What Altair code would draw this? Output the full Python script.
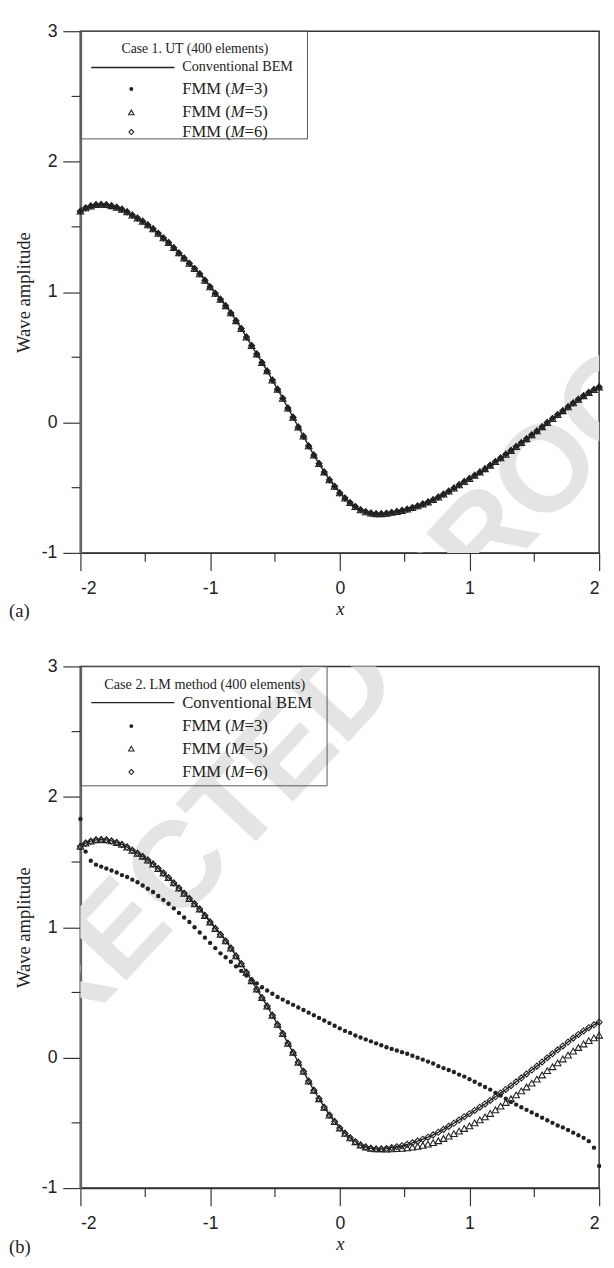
import altair as alt
import pandas as pd

# ---------------- data ----------------
X = [-2.00, -1.96, -1.92, -1.88, -1.84, -1.80, -1.76, -1.72, -1.68, -1.64,
     -1.60, -1.56, -1.52, -1.48, -1.44, -1.40, -1.36, -1.32, -1.28, -1.24,
     -1.20, -1.16, -1.12, -1.08, -1.04, -1.00, -0.96, -0.92, -0.88, -0.84,
     -0.80, -0.76, -0.72, -0.68, -0.64, -0.60, -0.56, -0.52, -0.48, -0.44,
     -0.40, -0.36, -0.32, -0.28, -0.24, -0.20, -0.16, -0.12, -0.08, -0.04,
     0.00, 0.04, 0.08, 0.12, 0.16, 0.20, 0.24, 0.28, 0.32, 0.36,
     0.40, 0.44, 0.48, 0.52, 0.56, 0.60, 0.64, 0.68, 0.72, 0.76,
     0.80, 0.84, 0.88, 0.92, 0.96, 1.00, 1.04, 1.08, 1.12, 1.16,
     1.20, 1.24, 1.28, 1.32, 1.36, 1.40, 1.44, 1.48, 1.52, 1.56,
     1.60, 1.64, 1.68, 1.72, 1.76, 1.80, 1.84, 1.88, 1.92, 1.96, 2.00]

# Conventional BEM (also FMM results of case 1 and FMM M=6 of case 2)
BEM = [1.620, 1.645, 1.660, 1.670, 1.672, 1.670, 1.662, 1.650, 1.635, 1.615,
       1.590, 1.567, 1.543, 1.515, 1.485, 1.450, 1.415, 1.380, 1.340, 1.300,
       1.260, 1.220, 1.180, 1.140, 1.090, 1.040, 0.990, 0.945, 0.895, 0.840,
       0.780, 0.720, 0.655, 0.590, 0.525, 0.460, 0.395, 0.325, 0.255, 0.185,
       0.110, 0.040, -0.035, -0.105, -0.180, -0.250, -0.315, -0.380, -0.440, -0.490,
       -0.540, -0.580, -0.615, -0.645, -0.670, -0.685, -0.695, -0.700, -0.700, -0.697,
       -0.690, -0.683, -0.675, -0.665, -0.653, -0.640, -0.625, -0.610, -0.592, -0.572,
       -0.550, -0.527, -0.503, -0.478, -0.453, -0.430, -0.405, -0.380, -0.355, -0.328,
       -0.300, -0.272, -0.244, -0.215, -0.185, -0.155, -0.125, -0.095, -0.065, -0.033,
       0.000, 0.030, 0.060, 0.090, 0.120, 0.150, 0.178, 0.205, 0.230, 0.252, 0.272]

# Case 2, FMM M=3
M3_B = [1.830, 1.580, 1.510, 1.480, 1.465, 1.450, 1.435, 1.420, 1.400, 1.385,
        1.365, 1.345, 1.320, 1.295, 1.270, 1.240, 1.210, 1.180, 1.145, 1.110,
        1.075, 1.040, 1.000, 0.960, 0.920, 0.880, 0.840, 0.800, 0.770, 0.735,
        0.700, 0.665, 0.630, 0.600, 0.570, 0.540, 0.515, 0.490, 0.465, 0.445,
        0.425, 0.405, 0.385, 0.365, 0.345, 0.325, 0.305, 0.285, 0.265, 0.245,
        0.225, 0.205, 0.190, 0.170, 0.155, 0.140, 0.125, 0.110, 0.095, 0.080,
        0.067, 0.055, 0.042, 0.030, 0.015, 0.000, -0.015, -0.030, -0.045, -0.065,
        -0.080, -0.095, -0.110, -0.130, -0.145, -0.165, -0.185, -0.205, -0.225, -0.245,
        -0.270, -0.290, -0.315, -0.340, -0.360, -0.380, -0.400, -0.420, -0.440, -0.460,
        -0.480, -0.500, -0.520, -0.535, -0.555, -0.575, -0.595, -0.615, -0.640, -0.690, -0.830]

# Case 2, FMM M=5
M5_B = [1.620, 1.645, 1.660, 1.670, 1.672, 1.670, 1.662, 1.650, 1.635, 1.615,
        1.590, 1.567, 1.543, 1.515, 1.485, 1.450, 1.415, 1.380, 1.340, 1.300,
        1.260, 1.220, 1.180, 1.140, 1.090, 1.040, 0.990, 0.945, 0.895, 0.840,
        0.780, 0.720, 0.655, 0.590, 0.525, 0.460, 0.395, 0.325, 0.255, 0.185,
        0.110, 0.040, -0.035, -0.105, -0.180, -0.250, -0.315, -0.380, -0.440, -0.490,
        -0.540, -0.580, -0.615, -0.645, -0.670, -0.685, -0.695, -0.700, -0.700, -0.702,
        -0.700, -0.698, -0.695, -0.692, -0.686, -0.680, -0.672, -0.663, -0.652, -0.637,
        -0.620, -0.602, -0.583, -0.563, -0.543, -0.523, -0.500, -0.477, -0.454, -0.428,
        -0.400, -0.372, -0.344, -0.315, -0.285, -0.255, -0.225, -0.195, -0.165, -0.133,
        -0.100, -0.070, -0.040, -0.010, 0.020, 0.050, 0.078, 0.105, 0.130, 0.152, 0.172]

SERIES = ["Conventional BEM", "FMM (M=3)", "FMM (M=5)", "FMM (M=6)"]
TITLES = ["Case 1. UT (400 elements)", "Case 2. LM method (400 elements)"]
TAGS = ["(a)", "(b)"]
X_TICKS = [-2, -1, 0, 1, 2]
Y_TICKS = [-1, 0, 1, 2, 3]
X_MINOR = [-1.5, -0.5, 0.5, 1.5]
Y_MINOR = [-0.5, 0.5, 1.5, 2.5]
X_TITLE = "x"
Y_TITLE = "Wave amplitude"
WATERMARK = "UNCORRECTED PROOF"

# ---------------- styling ----------------
W, H = 530, 533
INK = "#222222"
SERIF = "Liberation Serif"
SANS = "Liberation Sans"
ONE = alt.Data(values=[{"k": 0}])
S_DOT, S_TRI, S_DIA = 20, 46, 38
PLOT_LEFT = 81
PLOT_TOPS = [17, 663.5]
WM_CENTER = (215, 835)   # page position of the watermark centre

xs = alt.Scale(domain=[-2, 2], nice=False, zero=False)
ys = alt.Scale(domain=[-1, 3], nice=False, zero=False)
xax = alt.Axis(values=X_TICKS, labelExpr="'' + datum.value", title=X_TITLE,
               titleFontStyle="italic", labelPadding=9, titlePadding=3,
               domainColor="#333333", domainWidth=1.5)
yax = alt.Axis(values=Y_TICKS, labelExpr="'' + datum.value", title=Y_TITLE,
               labelPadding=6, titlePadding=8, domainColor="#666666", domainWidth=2.5)


def txt(x, y, s, size, style="normal", align="left"):
    return alt.Chart(ONE).mark_text(
        font=SERIF, fontSize=size, fontStyle=style, align=align,
        baseline="middle", color=INK
    ).encode(x=alt.value(x), y=alt.value(y), text=alt.value(s))


def fmm_label(x, y, s, size):
    # "FMM (" + italic "M" + "=k)"
    pre, mid, post = s[:5], s[5], s[6:]
    w_pre = 2.917 * size
    w_mid = 0.833 * size
    return [txt(x, y, pre, size), txt(x + w_pre, y, mid, size, "italic"),
            txt(x + w_pre + w_mid, y, post, size)]


def panel(idx, m3, m5, m6, box_w, box_h, rows, fs_title, fs_conv, fs_fmm):
    df = pd.DataFrame({"x": X, "bem": BEM, "m3": m3, "m5": m5, "m6": m6})
    base = alt.Chart(df)
    xenc = alt.X("x:Q", scale=xs, axis=xax)

    def yenc(f):
        return alt.Y(f + ":Q", scale=ys, axis=yax)

    top = PLOT_TOPS[idx]
    wm = alt.Chart(ONE).mark_text(
        font=SANS, fontWeight="bold", fontSize=125, angle=313, color="#e4e4e4",
        align="center", baseline="middle", clip=True
    ).encode(x=alt.value(WM_CENTER[0] - PLOT_LEFT), y=alt.value(WM_CENTER[1] - top),
             text=alt.value(WATERMARK))

    layers = [
        wm,
        base.mark_line(color=INK, strokeWidth=1.4).encode(x=xenc, y=yenc("bem")),
        base.mark_point(shape="circle", filled=True, color=INK, size=S_DOT, opacity=1)
            .encode(x=xenc, y=yenc("m3")),
        base.mark_point(shape="triangle-up", filled=False, color=INK, size=S_TRI,
                        strokeWidth=1.1, opacity=1).encode(x=xenc, y=yenc("m5")),
        base.mark_point(shape="diamond", filled=False, color=INK, size=S_DIA,
                        strokeWidth=1.1, opacity=1).encode(x=xenc, y=yenc("m6")),
    ]
    # minor ticks
    xm = alt.Chart(pd.DataFrame({"v": X_MINOR})).mark_rule(color="#333333", strokeWidth=1.2).encode(
        x=alt.X("v:Q", scale=xs, axis=xax), y=alt.value(H), y2=alt.value(H + 9))
    ym = alt.Chart(pd.DataFrame({"v": Y_MINOR})).mark_rule(color="#333333", strokeWidth=1.2).encode(
        y=alt.Y("v:Q", scale=ys, axis=yax), x=alt.value(0), x2=alt.value(-9))
    layers += [xm, ym]

    # legend box (transparent, the watermark shows through)
    ty, cy, r3, r5, r6 = rows
    layers.append(alt.Chart(ONE).mark_rect(fill="white", fillOpacity=0, stroke="#555555",
                                           strokeWidth=1).encode(
        x=alt.value(0), x2=alt.value(box_w), y=alt.value(0), y2=alt.value(box_h)))
    layers.append(txt(box_w / 2 + 1, ty, TITLES[idx], fs_title, align="center"))
    layers.append(alt.Chart(ONE).mark_rule(color=INK, strokeWidth=1.5).encode(
        x=alt.value(11), x2=alt.value(96), y=alt.value(cy)))
    layers.append(txt(104, cy, SERIES[0], fs_conv))
    layers.append(alt.Chart(ONE).mark_point(shape="circle", filled=True, color=INK, size=16, opacity=1)
                  .encode(x=alt.value(52), y=alt.value(r3)))
    layers.append(alt.Chart(ONE).mark_point(shape="triangle-up", filled=False, color=INK, size=30,
                                            strokeWidth=1.1, opacity=1)
                  .encode(x=alt.value(52), y=alt.value(r5)))
    layers.append(alt.Chart(ONE).mark_point(shape="diamond", filled=False, color=INK, size=26,
                                            strokeWidth=1.1, opacity=1)
                  .encode(x=alt.value(52), y=alt.value(r6)))
    layers += fmm_label(104, r3, SERIES[1], fs_fmm)
    layers += fmm_label(104, r5, SERIES[2], fs_fmm)
    layers += fmm_label(104, r6, SERIES[3], fs_fmm)
    # panel tag
    layers.append(txt(-73, H + 60, TAGS[idx], 19))
    return alt.layer(*layers).properties(width=W, height=H)


pa = panel(0, BEM, BEM, BEM, 232, 110, (18, 37, 59, 83, 103), 14, 14.5, 17)
pb = panel(1, M3_B, M5_B, BEM, 252, 122, (19, 37, 61, 84, 108), 14.5, 17, 17)

chart = alt.vconcat(pa, pb, spacing=35).properties(
    padding={"left": 0, "top": 0, "right": 0, "bottom": 0}
).configure_view(
    stroke="#333333", strokeWidth=1.5
).configure_axis(
    grid=False, tickSize=18, tickColor="#333333", tickWidth=1.2,
    labelFont=SANS, labelFontSize=18, labelColor=INK,
    titleFont=SERIF, titleFontSize=19, titleFontWeight="normal", titleColor=INK
)

chart.save("out.html", embed_options={"renderer": "svg", "actions": False})
